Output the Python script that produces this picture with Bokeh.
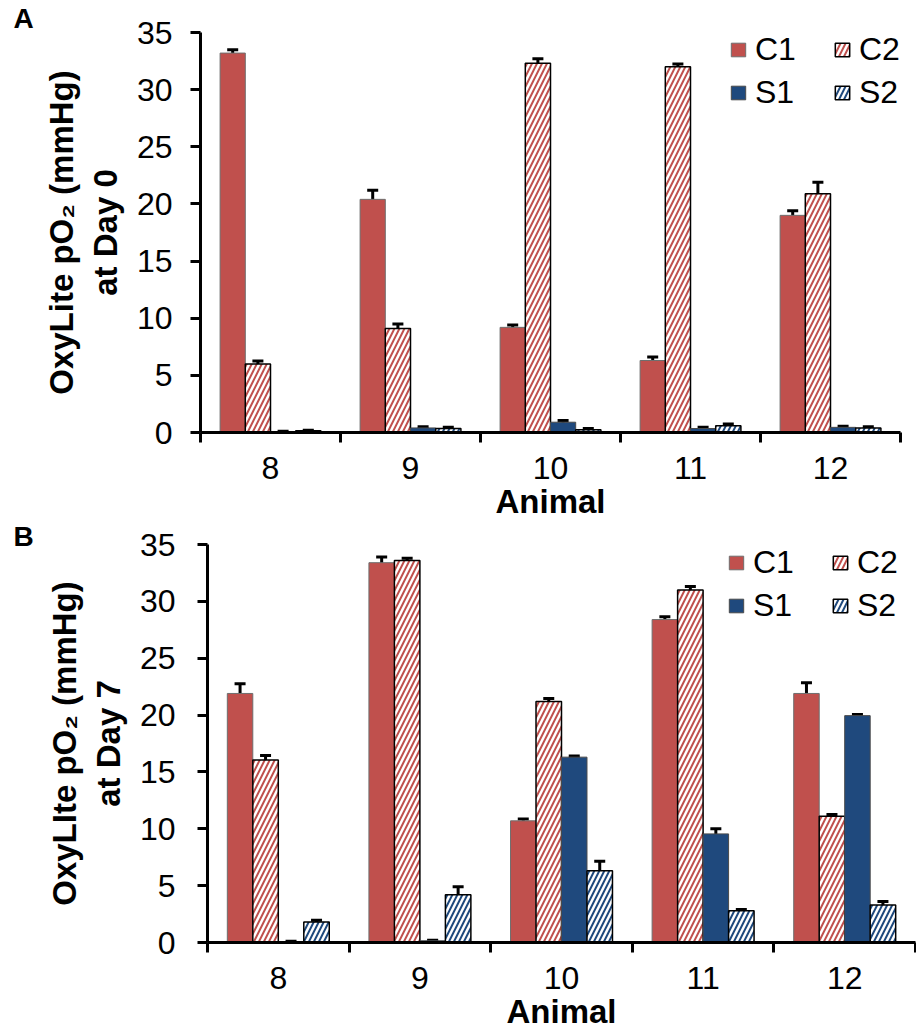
import numpy as np
from bokeh.plotting import figure
from bokeh.models import (ColumnDataSource, Whisker, TeeHead, FixedTicker,
                          Legend, LegendItem, Label)
from bokeh.layouts import column
from bokeh.embed import file_html
from bokeh.resources import INLINE

animals = ["8", "9", "10", "11", "12"]
series = ["C1", "C2", "S1", "S2"]

# Day 0 (panel A)
day0_C1 = [33.2, 20.4, 9.2, 6.3, 19.0]
day0_C1_err = [0.3, 0.8, 0.2, 0.3, 0.4]
day0_C2 = [6.0, 9.1, 32.3, 32.0, 20.9]
day0_C2_err = [0.25, 0.4, 0.4, 0.25, 1.0]
day0_S1 = [0.05, 0.4, 0.9, 0.35, 0.45]
day0_S1_err = [0.05, 0.1, 0.15, 0.1, 0.1]
day0_S2 = [0.15, 0.35, 0.25, 0.6, 0.4]
day0_S2_err = [0.05, 0.1, 0.1, 0.15, 0.1]

# Day 7 (panel B)
day7_C1 = [21.9, 33.4, 10.7, 28.4, 21.9]
day7_C1_err = [0.85, 0.5, 0.15, 0.25, 0.95]
day7_C2 = [16.05, 33.6, 21.2, 31.0, 11.1]
day7_C2_err = [0.4, 0.2, 0.25, 0.3, 0.15]
day7_S1 = [0.05, 0.15, 16.3, 9.55, 19.95]
day7_S1_err = [0.05, 0.05, 0.1, 0.45, 0.1]
day7_S2 = [1.8, 4.2, 6.3, 2.8, 3.3]
day7_S2_err = [0.15, 0.7, 0.85, 0.1, 0.3]

y_ticks = [0, 5, 10, 15, 20, 25, 30, 35]

RED = "#C0504D"
BLUE = "#1F497D"
FONT = "Liberation Sans"

styles = {
    "C1": dict(fill_color=RED, line_color="#6e6e6e", line_width=1),
    "C2": dict(fill_color="white", line_color="black", line_width=1.5,
               hatch_pattern="/", hatch_color=RED, hatch_scale=10, hatch_weight=2),
    "S1": dict(fill_color=BLUE, line_color="#4a4a4a", line_width=1),
    "S2": dict(fill_color="white", line_color="black", line_width=1.5,
               hatch_pattern="/", hatch_color=BLUE, hatch_scale=10, hatch_weight=2),
}


def make_panel(vals, errs, letter, ylabel, frame_left, frame_w, frame_h,
               border_top, border_bottom, legend_xy, tick_standoff, letter_base):
    n = len(animals)
    p = figure(frame_width=frame_w, frame_height=frame_h,
               x_range=(0, n), y_range=(y_ticks[0], y_ticks[-1]),
               output_backend="svg", toolbar_location=None,
               min_border_left=frame_left, min_border_right=916 - frame_left - frame_w,
               min_border_top=border_top, min_border_bottom=border_bottom)
    p.outline_line_color = None
    p.xgrid.visible = False
    p.ygrid.visible = False

    w = 0.18
    centers = np.arange(n) + 0.5
    items = []
    for i, s in enumerate(series):
        x = centers + (i - (len(series) - 1) / 2) * w
        top = np.array(vals[s])
        e = np.array(errs[s])
        src = ColumnDataSource(dict(x=x, top=top, upper=top + e, lower=np.maximum(top - e, 0)))
        r = p.vbar(x="x", top="top", width=w, source=src, **styles[s])
        wh = Whisker(base="x", upper="upper", lower="lower", source=src,
                     line_width=3, line_color="black",
                     upper_head=TeeHead(size=11, line_width=3, line_color="black"),
                     lower_head=TeeHead(size=11, line_width=3, line_color="black"))
        p.add_layout(wh)
        items.append(LegendItem(label=s, renderers=[r]))

    # x axis
    xa = p.xaxis[0]
    xa.ticker = FixedTicker(ticks=list(centers), minor_ticks=list(range(n + 1)))
    xa.major_label_overrides = {float(c): a for c, a in zip(centers, animals)}
    xa.major_tick_out = 0
    xa.major_tick_in = 0
    xa.minor_tick_out = 10
    xa.minor_tick_in = 0
    xa.minor_tick_line_width = 3
    xa.axis_line_width = 3
    xa.major_label_text_font = FONT
    xa.major_label_text_font_size = "32px"
    xa.major_label_text_color = "black"
    xa.major_label_standoff = 14
    xa.axis_label = "Animal"
    xa.axis_label_text_font = FONT
    xa.axis_label_text_font_size = "33px"
    xa.axis_label_text_font_style = "bold"
    xa.axis_label_text_color = "black"
    xa.axis_label_standoff = 1

    ya = p.yaxis[0]
    ya.ticker = FixedTicker(ticks=y_ticks, minor_ticks=[])
    ya.major_tick_out = 10
    ya.major_tick_in = 0
    ya.major_tick_line_width = 3
    ya.axis_line_width = 3
    ya.major_label_text_font = FONT
    ya.major_label_text_font_size = "32px"
    ya.major_label_text_color = "black"
    ya.major_label_standoff = tick_standoff
    ya.axis_label = ylabel
    ya.axis_label_text_font = FONT
    ya.axis_label_text_font_size = "33px"
    ya.axis_label_text_font_style = "bold"
    ya.axis_label_text_color = "black"
    ya.axis_label_standoff = 10

    leg = Legend(items=items, ncols=2, orientation="horizontal",
                 location=legend_xy,
                 label_text_font=FONT, label_text_font_size="32px",
                 label_text_color="black",
                 glyph_width=18, glyph_height=17, label_standoff=8,
                 spacing=6, padding=0, margin=0, label_width=72,
                 border_line_alpha=0, background_fill_alpha=0)
    p.add_layout(leg)

    # panel letter, placed in the left side panel so it is not clipped to the frame
    yspan = y_ticks[-1] - y_ticks[0]
    lab = Label(x=(13 - frame_left) / frame_w * n,
                y=y_ticks[-1] + letter_base / frame_h * yspan,
                text=letter, text_font=FONT, text_font_style="bold",
                text_font_size="28px", text_baseline="alphabetic", text_color="black")
    p.add_layout(lab, "left")
    return p


pA = make_panel(dict(C1=day0_C1, C2=day0_C2, S1=day0_S1, S2=day0_S2),
                dict(C1=day0_C1_err, C2=day0_C2_err, S1=day0_S1_err, S2=day0_S2_err),
                "A", "OxyLite pO\u2082 (mmHg)\nat Day 0",
                200, 700, 400, 32, 84, (529, 321), 18, 14)
pB = make_panel(dict(C1=day7_C1, C2=day7_C2, S1=day7_S1, S2=day7_S2),
                dict(C1=day7_C1_err, C2=day7_C2_err, S1=day7_S1_err, S2=day7_S2_err),
                "B", "OxyLIte pO\u2082 (mmHg)\nat Day 7",
                207, 708, 398, 22, 100, (520, 318), 22, 8)

layout = column(column(pA), column(pB), spacing=0)
open("out.html", "w").write(file_html(layout, INLINE))
